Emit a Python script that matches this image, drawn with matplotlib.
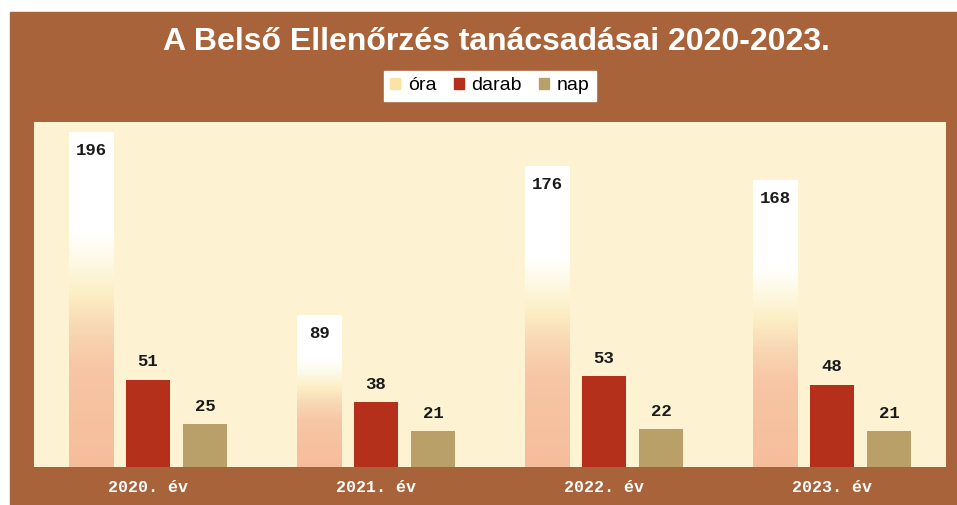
import matplotlib.pyplot as plt
import matplotlib.patches as mpatches
from matplotlib.colors import LinearSegmentedColormap
import numpy as np

# data
years = ["2020. év", "2021. év", "2022. év", "2023. év"]
ora = [196, 89, 176, 168]
darab = [51, 38, 53, 48]
nap = [25, 21, 22, 21]

# colours
frame_color = "#a8633b"
plot_bg = "#fdf3d2"
darab_color = "#b5301a"
nap_color = "#b9a068"
ora_legend = "#fbe3a6"
ora_cmap = LinearSegmentedColormap.from_list(
    "ora", [(0.0, "#f6bd9b"), (0.3, "#f7c6a4"), (0.42, "#f9d8b6"),
            (0.52, "#fcefc6"), (0.62, "#fefae8"), (0.7, "#ffffff"), (1.0, "#ffffff")])

fig = plt.figure(figsize=(9.57, 5.05), dpi=100)
fig.patch.set_facecolor("white")

# brown frame behind everything
frame = mpatches.Rectangle((10 / 957, 0), 1, (505 - 12) / 505,
                           transform=fig.transFigure, color=frame_color, zorder=-5)
fig.patches.append(frame)

ax = fig.add_axes([34 / 957, (505 - 467) / 505, 912 / 957, (467 - 122) / 505])
ax.set_zorder(2)
ax.set_facecolor(plot_bg)
for s in ax.spines.values():
    s.set_visible(False)

x = np.arange(len(years))
w = 0.195
step = 0.25

# óra bars with vertical gradient fill
ora_bars = ax.bar(x - step, ora, w, color="none", edgecolor="none", zorder=2)
grad = np.linspace(0, 1, 256).reshape(-1, 1)
for b in ora_bars:
    x0, y0 = b.get_x(), b.get_y()
    im = ax.imshow(grad, cmap=ora_cmap, origin="lower", aspect="auto",
                   extent=[x0, x0 + b.get_width(), y0, y0 + b.get_height()], zorder=2)
    im.set_clip_path(b)

darab_bars = ax.bar(x, darab, w, color=darab_color, zorder=2)
nap_bars = ax.bar(x + step, nap, w, color=nap_color, zorder=2)

ax.set_xlim(-0.5, 3.5)
ax.set_ylim(0, 202)
ax.set_yticks([])
ax.set_xticks([])

label_font = dict(family="Liberation Mono", weight="bold", fontsize=12.5, color="#1a1a1a")
for xi, v in zip(x, ora):
    ax.annotate(str(v), (xi - step, v), xytext=(0, -13), textcoords="offset points",
                ha="center", va="center", zorder=3, **label_font)
for xi, v in zip(x, darab):
    ax.annotate(str(v), (xi, v), xytext=(0, 13), textcoords="offset points",
                ha="center", va="center", zorder=3, **label_font)
for xi, v in zip(x, nap):
    ax.annotate(str(v), (xi + step, v), xytext=(0, 13), textcoords="offset points",
                ha="center", va="center", zorder=3, **label_font)

# category labels in the brown strip below the plot
for xi, name in zip(x, years):
    ax.annotate(name, (xi, 0), xytext=(0, -15), textcoords="offset points",
                ha="center", va="center", family="Liberation Mono", weight="bold",
                fontsize=12, color="white", annotation_clip=False)

fig.text(496 / 957, 1 - 42 / 505, "A Belső Ellenőrzés tanácsadásai 2020-2023.",
         ha="center", va="center", color="white", fontsize=23, weight="bold",
         family="Liberation Sans")

handles = [mpatches.Patch(color=ora_legend), mpatches.Patch(color=darab_color),
           mpatches.Patch(color=nap_color)]
leg = fig.legend(handles, ["óra", "darab", "nap"], loc="center",
                 bbox_to_anchor=(490 / 957, 1 - 86 / 505), ncol=3, frameon=True,
                 fancybox=False, handlelength=0.5, handleheight=0.5,
                 handletextpad=0.4, columnspacing=0.9, borderpad=0.35,
                 prop=dict(family="Liberation Sans", size=14))
leg.get_frame().set_facecolor("white")
leg.get_frame().set_edgecolor("white")
leg.get_frame().set_alpha(1)

fig.savefig("out.png", dpi=100, facecolor=fig.get_facecolor())
